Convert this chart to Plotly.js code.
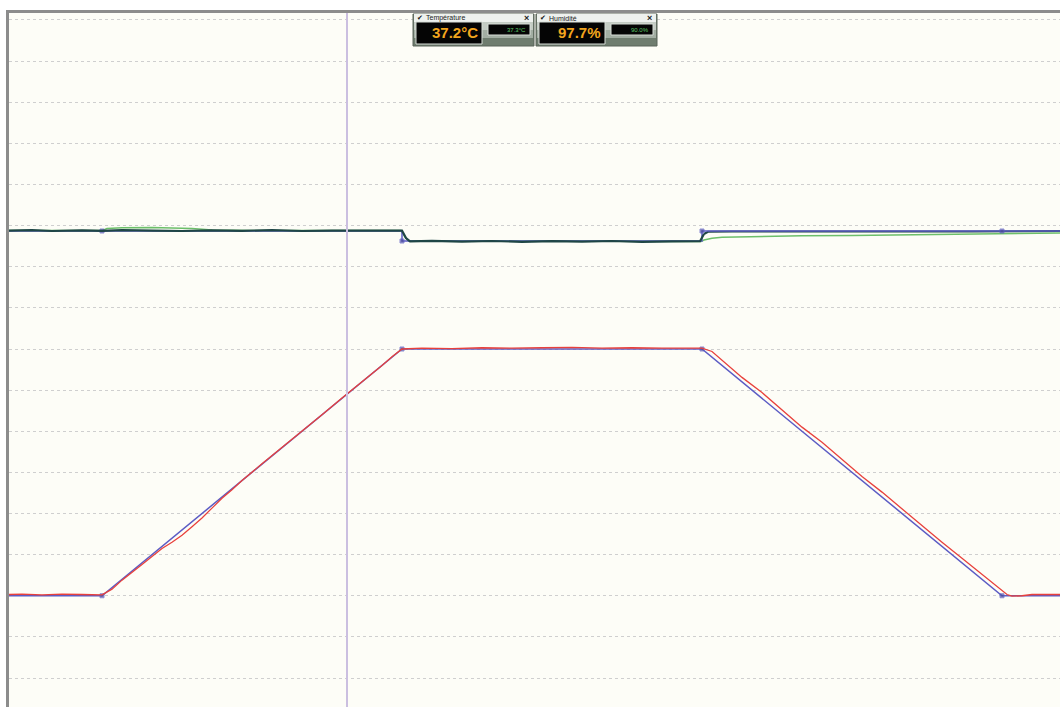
<!DOCTYPE html>
<html>
<head>
<meta charset="utf-8">
<script src="https://cdn.plot.ly/plotly-3.0.1.min.js"></script>
<style>html,body{margin:0;padding:0;background:#fff;}#chart{width:1060px;height:707px;}</style>
</head>
<body>
<div id="chart"></div>
<script>
// time in minutes
const spTempTime = [0.7, 10, 40, 70, 100, 105.8];
const spTempVal  = [20, 20, 80, 80, 20, 20];
const spTempMarker = [0, 4, 4, 4, 4, 0];

const tempTime = [0.7,2,4,6,8,9,10,11,12,14,16,17,18,19,20,21,22,23,24,26,28,30,32,34,36,38,39,40,
  42,45,48,51,54,57,60,63,66,69,70,71,72,74,76,78,80,82,84,86,88,90,92,94,96,98,99,100,100.5,101,102,103,104,105,105.8];
const tempVal = [20.3,20.4,20.2,20.4,20.3,20.2,20.2,21.6,23.8,27.6,31.5,33.0,34.7,36.8,38.9,41.3,43.7,45.8,48.0,52.1,56.0,60.1,64.0,68.1,72.0,76.0,78.1,80.0,
  80.2,80.1,80.3,80.2,80.3,80.4,80.2,80.3,80.2,80.3,80.2,79.4,77.3,73.1,69.4,65.2,61.0,57.3,53.1,49.0,45.2,41.1,37.2,33.0,29.1,25.2,23.1,21.2,20.3,19.9,20.0,20.3,20.3,20.4,20.3];

const spHumTime = [0.7, 10, 40, 40, 70, 70, 100, 105.8];
const spHumVal  = [90, 90, 90, 85, 85, 90, 90, 90];
const spHumMarker = [0, 4, 0, 4, 0, 4, 4, 0];

// measured humidity, first part (before return step) and second part
const humTimeA = [0.7,3,5,8,10,12,15,18,21,24,27,30,33,36,39,40,40.4,40.8,43,46,49,52,55,58,61,64,67,69.8,70.2];
const humValA  = [90.2,90.4,90.0,90.3,90.1,90.4,90.2,90.0,90.3,90.1,90.4,90.0,90.2,90.3,90.1,90.2,86.5,84.8,85.1,84.7,85.0,84.6,84.9,84.7,85.0,84.6,84.8,84.9,88.5];
const humTimeB = [70.2,70.6,73,76,79,82,85,88,91,94,97,100,102,104,105.8];
const humValB  = [88.5,89.6,89.8,89.7,89.8,89.7,89.8,89.7,89.8,89.7,89.8,89.9,90.0,89.9,90.0];

const hum2Time = [0.7,10,10.5,12,15,18,19,20,21,25,30,39.9,40.3,40.6,45,55,65,69.9,70.2,71,72,75,80,85,90,95,100,102,105.8];
const hum2Val  = [90.2,90.2,91.2,91.6,91.7,91.5,91.2,90.9,90.5,90.3,90.2,90.2,87.0,85.2,85.0,84.8,84.8,84.8,85.5,86.4,86.9,87.2,87.6,87.8,88.0,88.2,88.5,88.8,89.0];

const cursorTime = 34.5;

const L = 9, T = 13, W = 1060, H = 707;
const px = x => (x - L) / (W - L);
const py = y => (H - y) / (H - T);

const widgets = [
  {x0: 413, title: 'Température', value: '37.2°C', set: '37.3°C'},
  {x0: 536, title: 'Humidité', value: '97.7%', set: '90.0%'}
];

const shapes = [
  {type:'line', xref:'x', yref:'paper', x0:cursorTime, x1:cursorTime, y0:0, y1:1, line:{color:'#cbbfe0', width:2}}
];
const annotations = [];
widgets.forEach(w => {
  const x0 = w.x0, x1 = w.x0 + 121;
  shapes.push({type:'rect', xref:'paper', yref:'paper', x0:px(x0), x1:px(x1), y0:py(46), y1:py(14), fillcolor:'#6f7d6f', line:{color:'#5a655a', width:1}});
  shapes.push({type:'rect', xref:'paper', yref:'paper', x0:px(x0+1), x1:px(x1-1), y0:py(22), y1:py(14), fillcolor:'#eef1ee', line:{width:0}});
  shapes.push({type:'rect', xref:'paper', yref:'paper', x0:px(x0+1), x1:px(x1-1), y0:py(30), y1:py(22), fillcolor:'#c4ccc4', line:{width:0}});
  shapes.push({type:'rect', xref:'paper', yref:'paper', x0:px(x0+1), x1:px(x1-1), y0:py(38), y1:py(30), fillcolor:'#a3aea3', line:{width:0}});
  shapes.push({type:'rect', xref:'paper', yref:'paper', x0:px(x0+3), x1:px(x0+69), y0:py(44), y1:py(22), fillcolor:'#050505', line:{color:'#d8ded8', width:1}});
  shapes.push({type:'rect', xref:'paper', yref:'paper', x0:px(x0+75), x1:px(x0+117), y0:py(35), y1:py(24), fillcolor:'#050505', line:{color:'#d8ded8', width:1}});
  annotations.push({xref:'paper', yref:'paper', x:px(x0+2), y:py(18), xanchor:'left', yanchor:'middle', text:'✔', showarrow:false, font:{family:'DejaVu Sans', size:7, color:'#111'}});
  annotations.push({xref:'paper', yref:'paper', x:px(x0+11), y:py(18), xanchor:'left', yanchor:'middle', text:w.title, showarrow:false, font:{family:'Arial, Liberation Sans', size:7, color:'#222'}});
  annotations.push({xref:'paper', yref:'paper', x:px(x1-3), y:py(18), xanchor:'right', yanchor:'middle', text:'<b>×</b>', showarrow:false, font:{family:'Arial, Liberation Sans', size:9, color:'#222'}});
  annotations.push({xref:'paper', yref:'paper', x:px(x0+67), y:py(33), xanchor:'right', yanchor:'middle', text:'<b>'+w.value+'</b>', showarrow:false, font:{family:'Arial, Liberation Sans', size:15, color:'#f2a51e'}});
  annotations.push({xref:'paper', yref:'paper', x:px(x0+115), y:py(30), xanchor:'right', yanchor:'middle', text:w.set, showarrow:false, font:{family:'Arial, Liberation Sans', size:6, color:'#5fc86a'}});
});

const traces = [
  {x: hum2Time, y: hum2Val, yaxis:'y2', mode:'lines', line:{color:'#6cbf6a', width:1.5}, hoverinfo:'skip'},
  {x: humTimeB, y: humValB, yaxis:'y2', mode:'lines', line:{color:'#1f4646', width:2}, hoverinfo:'skip'},
  {x: spHumTime, y: spHumVal, yaxis:'y2', mode:'lines+markers', line:{color:'#5c5cc4', width:1.5},
   marker:{symbol:'square', size:spHumMarker, color:'#4a4a9a'}, hoverinfo:'skip'},
  {x: humTimeA, y: humValA, yaxis:'y2', mode:'lines', line:{color:'#1f4646', width:2.2}, hoverinfo:'skip'},
  {x: spTempTime, y: spTempVal, mode:'lines+markers', line:{color:'#5c5cc4', width:1.5},
   marker:{symbol:'square', size:spTempMarker, color:'#4a4a9a'}, hoverinfo:'skip'},
  {x: tempTime, y: tempVal, mode:'lines', line:{color:'#e8413c', width:1.3}, hoverinfo:'skip'}
];

const layout = {
  width: 1060, height: 707,
  margin: {l: L, r: 0, t: T, b: 0, pad: 0},
  paper_bgcolor: '#ffffff',
  plot_bgcolor: '#fdfdf7',
  showlegend: false,
  xaxis: {range:[0.7, 105.8], side:'top', showgrid:false, zeroline:false, showticklabels:false, ticks:'',
          showline:true, linecolor:'#8c8c8c', linewidth:3},
  yaxis: {range:[-7.05, 161.7], tick0:0, dtick:10, showgrid:true, gridcolor:'#cfcfcf', griddash:'dot', gridwidth:1,
          zeroline:false, showticklabels:false, ticks:'', showline:true, linecolor:'#8c8c8c', linewidth:3},
  yaxis2: {range:[-148, 199], overlaying:'y', side:'right', showgrid:false, zeroline:false, showticklabels:false, ticks:'', showline:false},
  shapes: shapes,
  annotations: annotations
};

Plotly.newPlot('chart', traces, layout, {displayModeBar:false, staticPlot:true});
</script>
</body>
</html>
